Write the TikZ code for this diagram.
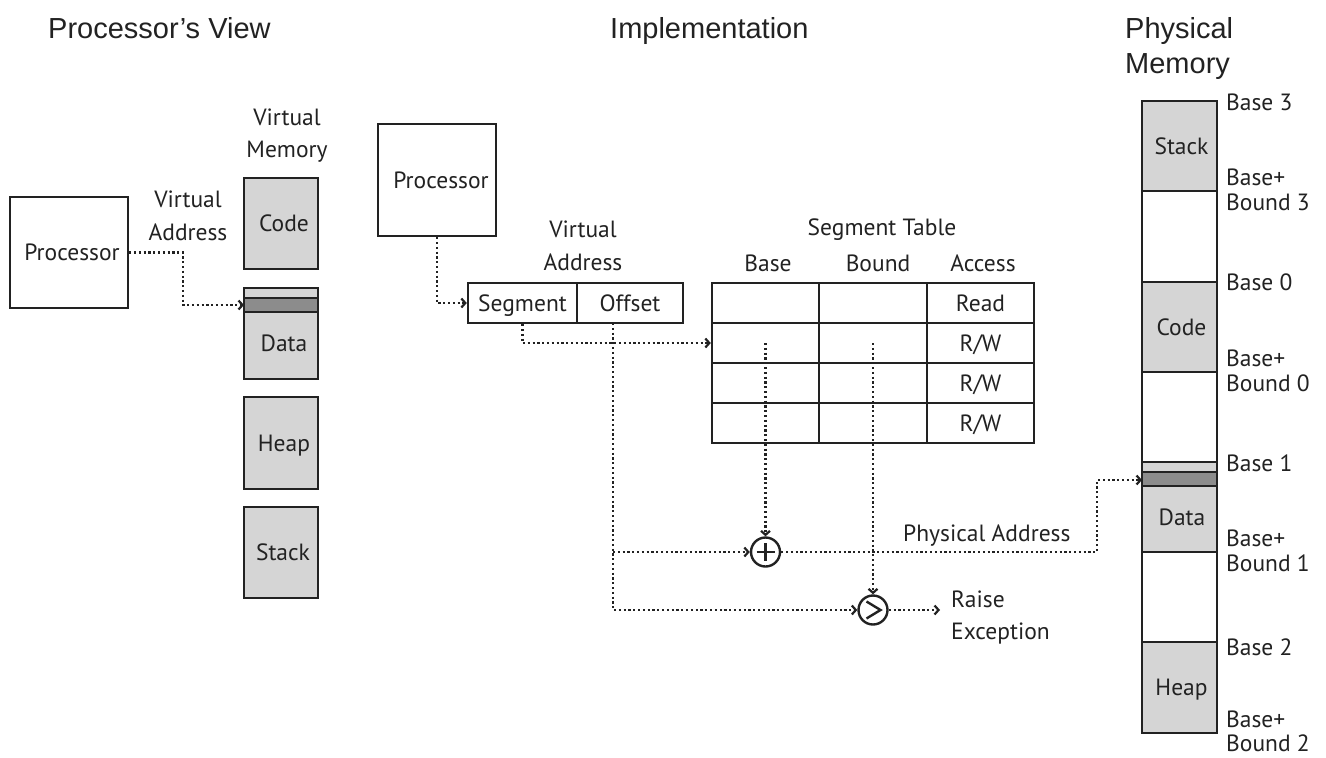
\documentclass[tikz,border=0pt]{standalone}
\usepackage{fontspec}
\setmainfont{PT Sans}
\newfontfamily\titlefont{Liberation Sans}
\usetikzlibrary{arrows.meta}
\definecolor{ink}{HTML}{222222}
\definecolor{segfill}{HTML}{D5D5D5}
\definecolor{darkstrip}{HTML}{8C8C8C}
\begin{document}
\begin{tikzpicture}[x=1pt,y=-1pt,
  bodyfont/.style={text=ink, font=\fontsize{23.5}{26}\selectfont},
  box/.style={draw=ink, line width=2.4pt, inner sep=0pt, bodyfont, text height=16.5pt, text depth=0pt},
  seg/.style={box, fill=segfill},
  lbl/.style={bodyfont, inner sep=0pt, text height=16.5pt, text depth=0pt},
  ttl/.style={text=ink, font=\titlefont\fontsize{29}{34}\selectfont, inner sep=0pt, anchor=base west},
  dots/.style={draw=ink, line width=2.4pt, dash pattern=on 2.2pt off 2.6pt},
  arr/.style={dots, -{Straight Barb[length=4pt,width=9pt,line width=2.2pt]}},
  op/.style={circle, draw=ink, line width=2.4pt, minimum size=29pt, inner sep=0pt},
  sign/.style={draw=ink, line width=2.4pt}
]
\fill[white] (0,0) rectangle (1326,758);
\useasboundingbox (0,0) rectangle (1326,758);

% ---------- titles ----------
\node[ttl] (t1) at (48,38) {Processor’s View};
\node[ttl] (t2) at (610,38) {Implementation};
\node[ttl] (t3a) at (1125,38) {Physical};
\node[ttl] (t3b) at (1125,73) {Memory};

% ---------- processor's view ----------
\node[box, minimum width=118pt, minimum height=111pt] (proc1) at (69,252.5) {\hspace*{6pt}Processor};
\node[lbl] (va1a) at (188,199) {Virtual};
\node[lbl] (va1b) at (188,232) {Address};
\node[lbl] (vm1) at (287,117) {Virtual};
\node[lbl] (vm2) at (287,149) {Memory};

\node[seg, minimum width=74pt, minimum height=91pt] (vcode) at (281,223.5) {\hspace*{6pt}Code};
\node[seg, minimum width=74pt, minimum height=91pt] (vdata) at (281,333.5) {};
\fill[darkstrip] (245.2,298) rectangle (316.8,312);
\draw[ink, line width=1.6pt] (245,298) -- (317,298) (245,312) -- (317,312);
\node[lbl] (vdatat) at (284,343) {Data};
\node[seg, minimum width=74pt, minimum height=92pt] (vheap) at (281,443) {\hspace*{6pt}Heap};
\node[seg, minimum width=74pt, minimum height=91pt] (vstack) at (281,552.5) {\hspace*{4pt}Stack};

\coordinate (vdin) at (244,305);
\draw[arr] (proc1.east) -- (183,252.5) |- (vdin);

% ---------- implementation ----------
\node[box, minimum width=118pt, minimum height=112pt] (proc2) at (437,180) {\hspace*{8pt}Processor};
\node[lbl] (va2a) at (583,229) {Virtual};
\node[lbl] (va2b) at (583,262) {Address};
\node[box, minimum width=109pt, minimum height=40pt] (vseg) at (522.5,303) {Segment};
\node[box, minimum width=106pt, minimum height=40pt] (voff) at (630,303) {Offset};
\draw[arr] (proc2.south) |- (vseg.west);

\node[lbl] (sth) at (882,227) {Segment Table};
\node[lbl] (hb) at (768,263) {Base};
\node[lbl] (hbd) at (878,263) {Bound};
\node[lbl] (hac) at (983,263) {Access};

\foreach \r/\y in {0/303,1/343,2/383,3/423}{
  \node[box, minimum width=107pt, minimum height=40pt] (t\r0) at (765.5,\y) {};
  \node[box, minimum width=108pt, minimum height=40pt] (t\r1) at (873,\y) {};
}
\node[box, minimum width=107pt, minimum height=40pt] (t02) at (980.5,303) {Read};
\node[box, minimum width=107pt, minimum height=40pt] (t12) at (980.5,343) {R/W};
\node[box, minimum width=107pt, minimum height=40pt] (t22) at (980.5,383) {R/W};
\node[box, minimum width=107pt, minimum height=40pt] (t32) at (980.5,423) {R/W};

\draw[arr] (vseg.south) |- (t10.west);

\node[op] (plus) at (765.5,552) {};
\draw[sign] (plus.center) ++(-9,0) -- ++(18,0);
\draw[sign] (plus.center) ++(0,-9) -- ++(0,18);
\node[op] (cmp) at (873,610) {};
\draw[sign] (cmp.center) ++(-6.5,-8.5) -- ++(14,8.5) -- ++(-14,8.5);

\draw[arr] (t10.center) -- (plus.north);
\draw[arr] (t11.center) -- (cmp.north);

\coordinate (ofs) at (613,323);
\draw[arr] (ofs) |- (cmp.west);
\draw[arr] (ofs |- plus.west) -- (plus.west);

\coordinate (pdin) at (1142,480);
\draw[arr] (plus.east) -- (1097,552) -- (1097,480) -- (pdin);
\node[lbl, anchor=west] (pa) at (903,533) {Physical Address};

\coordinate (rexc) at (940,610);
\draw[arr] (cmp.east) -- (rexc);
\node[lbl, anchor=west] (re1) at (951,599) {Raise};
\node[lbl, anchor=west] (re2) at (951,631) {Exception};

% ---------- physical memory ----------
\node[seg, minimum width=75pt, minimum height=90pt] (pstack) at (1179.5,146) {\hspace*{4pt}Stack};
\node[seg, minimum width=75pt, minimum height=90pt] (pcode) at (1179.5,327) {\hspace*{4pt}Code};
\node[seg, minimum width=75pt, minimum height=90pt] (pdata) at (1179.5,507) {};
\fill[darkstrip] (1143.2,472) rectangle (1215.8,486);
\draw[ink, line width=1.6pt] (1143,472) -- (1216,472) (1143,486) -- (1216,486);
\node[lbl] (pdatat) at (1182,517) {Data};
\node[seg, minimum width=75pt, minimum height=91pt] (pheap) at (1179.5,687.5) {\hspace*{4pt}Heap};
\node[box, minimum width=75pt, minimum height=632pt] (pm) at (1179.5,417) {};

\node[lbl, anchor=west] (b3) at (1226,102) {Base 3};
\node[lbl, anchor=west] (bb3a) at (1226,177) {Base+};
\node[lbl, anchor=west] (bb3b) at (1226,202) {Bound 3};
\node[lbl, anchor=west] (b0) at (1226,282) {Base 0};
\node[lbl, anchor=west] (bb0a) at (1226,358) {Base+};
\node[lbl, anchor=west] (bb0b) at (1226,383) {Bound 0};
\node[lbl, anchor=west] (b1) at (1226,463) {Base 1};
\node[lbl, anchor=west] (bb1a) at (1226,538) {Base+};
\node[lbl, anchor=west] (bb1b) at (1226,563) {Bound 1};
\node[lbl, anchor=west] (b2) at (1226,647) {Base 2};
\node[lbl, anchor=west] (bb2a) at (1226,719) {Base+};
\node[lbl, anchor=west] (bb2b) at (1226,743) {Bound 2};
\end{tikzpicture}
\end{document}
